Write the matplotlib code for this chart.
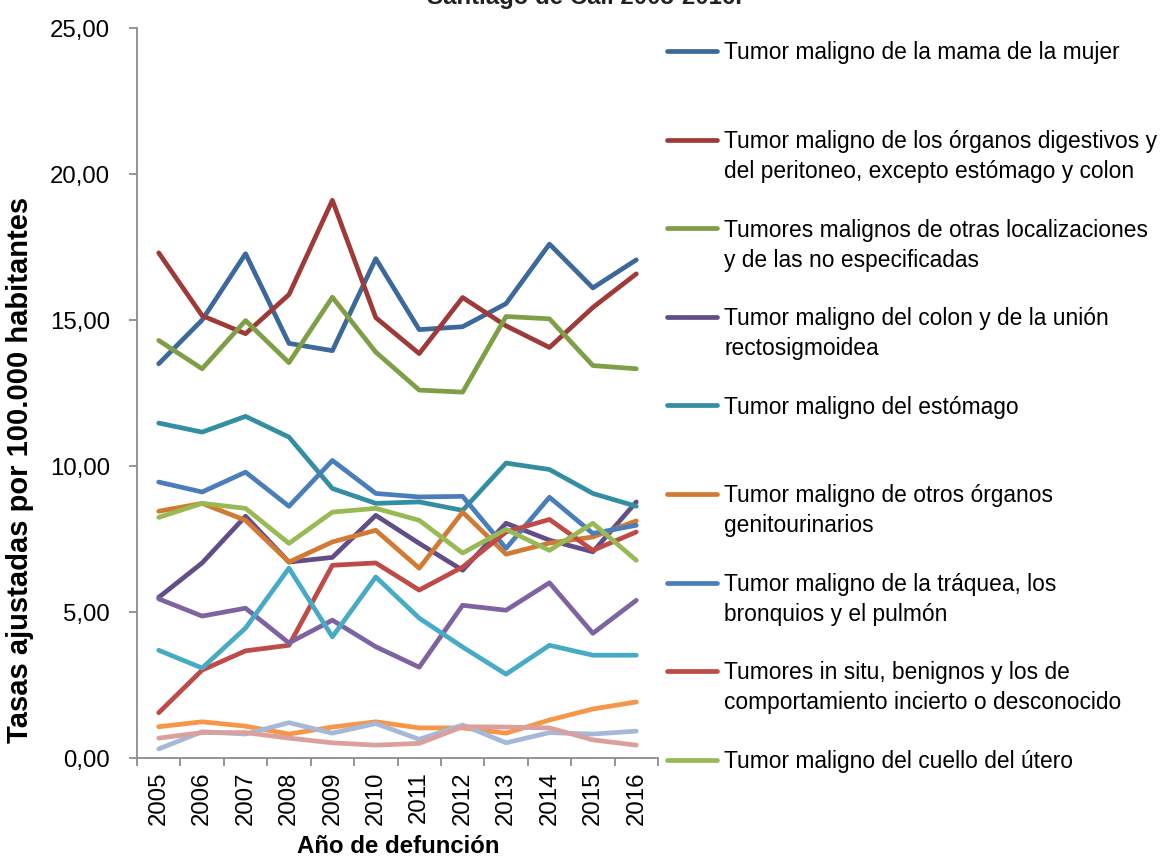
import matplotlib
matplotlib.use("Agg")
import matplotlib.pyplot as plt
from matplotlib.lines import Line2D
from matplotlib.ticker import FuncFormatter, MultipleLocator, FixedLocator
from matplotlib import font_manager

# ---------------- data ----------------
years = ["2005", "2006", "2007", "2008", "2009", "2010",
         "2011", "2012", "2013", "2014", "2015", "2016"]

mama = [13.5, 15.0, 17.27, 14.2, 13.95, 17.1, 14.67, 14.77, 15.56, 17.6, 16.1, 17.06]
digestivos = [17.3, 15.15, 14.53, 15.87, 19.1, 15.08, 13.85, 15.77, 14.8, 14.06, 15.43, 16.58]
otras_localizaciones = [14.3, 13.33, 14.98, 13.54, 15.78, 13.9, 12.6, 12.53, 15.12, 15.04, 13.44, 13.33]
colon = [5.5, 6.68, 8.28, 6.71, 6.87, 8.31, 7.35, 6.43, 8.04, 7.46, 7.06, 8.77]
estomago = [11.47, 11.16, 11.7, 10.99, 9.23, 8.72, 8.77, 8.48, 10.1, 9.88, 9.06, 8.62]
genitourinarios = [8.45, 8.72, 8.14, 6.71, 7.4, 7.8, 6.5, 8.42, 6.98, 7.36, 7.57, 8.12]
traquea = [9.45, 9.11, 9.79, 8.62, 10.19, 9.06, 8.94, 8.96, 7.18, 8.93, 7.69, 7.97]
in_situ = [1.55, 3.01, 3.67, 3.86, 6.6, 6.68, 5.75, 6.54, 7.74, 8.17, 7.11, 7.74]
cuello_utero = [8.24, 8.72, 8.55, 7.35, 8.42, 8.55, 8.14, 7.02, 7.83, 7.11, 8.04, 6.77]
serie_10 = [5.45, 4.86, 5.13, 3.94, 4.72, 3.81, 3.11, 5.23, 5.06, 6.0, 4.27, 5.4]
serie_11 = [3.69, 3.08, 4.45, 6.5, 4.15, 6.2, 4.79, 3.8, 2.87, 3.86, 3.52, 3.52]
serie_12 = [1.07, 1.24, 1.09, 0.82, 1.06, 1.24, 1.03, 1.03, 0.85, 1.3, 1.68, 1.92]
serie_13 = [0.31, 0.9, 0.82, 1.21, 0.85, 1.18, 0.64, 1.13, 0.52, 0.87, 0.82, 0.92]
serie_14 = [0.68, 0.87, 0.87, 0.68, 0.52, 0.44, 0.5, 1.07, 1.06, 1.03, 0.62, 0.44]

labels = [
    "Tumor maligno de la mama de la mujer",
    "Tumor maligno de los órganos digestivos y\ndel peritoneo, excepto estómago y colon",
    "Tumores malignos de otras localizaciones\ny de las no especificadas",
    "Tumor maligno del colon y de la unión\nrectosigmoidea",
    "Tumor maligno del estómago",
    "Tumor maligno de otros órganos\ngenitourinarios",
    "Tumor maligno de la tráquea, los\nbronquios y el pulmón",
    "Tumores in situ, benignos y los de\ncomportamiento incierto o desconocido",
    "Tumor maligno del cuello del útero",
]

series = [mama, digestivos, otras_localizaciones, colon, estomago, genitourinarios,
          traquea, in_situ, cuello_utero, serie_10, serie_11, serie_12, serie_13, serie_14]
colors = ["#3C689B", "#9E3B38", "#7F9E45", "#634D89", "#348EA2", "#D27A33",
          "#4A7EBB", "#BE4B48", "#98B954", "#7E63A1", "#47ABC6", "#F79646",
          "#A6B8D8", "#D9A09E"]

title = "Santiago de Cali 2005-2016."
ylabel = "Tasas ajustadas por 100.000 habitantes"
xlabel = "Año de defunción"

# ---------------- fonts ----------------
def has_font(name):
    try:
        font_manager.findfont(font_manager.FontProperties(family=name), fallback_to_default=False)
        return True
    except Exception:
        return False

base_font = "Liberation Sans" if has_font("Liberation Sans") else "DejaVu Sans"
plt.rcParams["font.family"] = [base_font, "DejaVu Sans"]

FS = 17.3
FS_LEG = 16.4
FS_YLAB = 21.0
W, H = 1161, 856
fig = plt.figure(figsize=(W / 100, H / 100), dpi=100)
fig.patch.set_facecolor("white")

left, right, bottom, top = 137, 658, 758, 28
ax = fig.add_axes([left / W, 1 - bottom / H, (right - left) / W, (bottom - top) / H])

x = list(range(len(years)))
for vals, c in zip(series, colors):
    ax.plot(x, vals, color=c, lw=3.4, solid_capstyle="round", solid_joinstyle="round")

ax.set_xlim(-0.5, len(years) - 0.5)
ax.set_ylim(0, 25)
ax.yaxis.set_major_locator(MultipleLocator(5))
ax.yaxis.set_major_formatter(FuncFormatter(lambda v, p: f"{v:.2f}".replace(".", ",")))
ax.set_xticks(x)
ax.set_xticklabels(years, rotation=90)
ax.xaxis.set_minor_locator(FixedLocator([i - 0.5 for i in range(len(years) + 1)]))

for s in ["top", "right"]:
    ax.spines[s].set_visible(False)
for s in ["left", "bottom"]:
    ax.spines[s].set_color("#8C8C8C")
    ax.spines[s].set_linewidth(1.3)

ax.tick_params(axis="x", which="major", length=0, pad=9.5, labelsize=FS, colors="black")
ax.tick_params(axis="x", which="minor", length=6, width=1.3, color="#8C8C8C", direction="out")
ax.tick_params(axis="y", which="major", length=6, width=1.3, color="#8C8C8C", pad=13.5,
               labelsize=FS, labelcolor="black")

ax.set_ylabel(ylabel, fontsize=FS_YLAB, fontweight="bold")
ax.yaxis.set_label_coords(-0.198, 0.394)
ax.set_xlabel(xlabel, fontsize=FS, fontweight="bold")
ax.xaxis.label.set_va("baseline")
ax.xaxis.set_label_coords((398 - left) / (right - left), -(853 - bottom) / (bottom - top))

# title (cut off at the top as in the reference)
fig.text(584 / W, 1 - 4 / H, title, ha="center", va="baseline", fontsize=FS,
         fontweight="bold", color="#222222")

# ---------------- legend (manual, first 9 series) ----------------
line_gap = 30
for i, lab in enumerate(labels):
    yc = 51 + 88.6 * i
    fig.add_artist(Line2D([667 / W, 717 / W], [1 - yc / H, 1 - yc / H], color=colors[i],
                          lw=3.4, solid_capstyle="round", transform=fig.transFigure))
    for k, line in enumerate(lab.split("\n")):
        yb = yc + 8.3 + k * line_gap
        fig.text(724 / W, 1 - yb / H, line, ha="left", va="baseline", fontsize=FS_LEG,
                 color="black")

fig.savefig("out.png", dpi=100, facecolor="white")
